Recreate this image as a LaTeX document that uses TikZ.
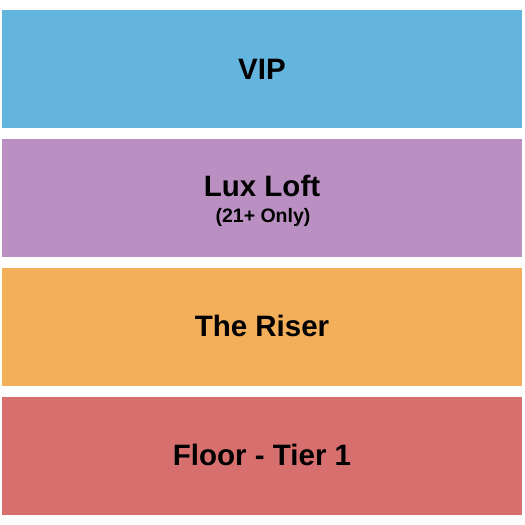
\documentclass[tikz,border=0pt]{standalone}
\usepackage{fontspec}
\setmainfont{Liberation Sans}
\definecolor{cvip}{HTML}{63B5DD}
\definecolor{clux}{HTML}{BA90C2}
\definecolor{criser}{HTML}{F3AE5A}
\definecolor{cfloor}{HTML}{D76F6F}
\begin{document}
\begin{tikzpicture}[x=1pt,y=-1pt,
  sect/.style={draw=none,inner sep=0pt,minimum width=520pt,minimum height=118pt,anchor=north west},
  big/.style={font=\fontsize{29.5}{31}\selectfont\bfseries,inner sep=0pt},
  small/.style={font=\fontsize{19.5}{21}\selectfont\bfseries,inner sep=0pt}]
\useasboundingbox (0,0) rectangle (525,525);
\node[sect,fill=cvip] (vip) at (2,10) {};
\node[sect,fill=clux] (lux) at (2,139) {};
\node[sect,fill=criser] (riser) at (2,268) {};
\node[sect,fill=cfloor] (floor) at (2,397) {};
\node[big] (tvip) at (262,69) {VIP};
\node[big] (tlux) at (262,186) {Lux Loft};
\node[small] (tlux2) at (263,217.5) {(21+ Only)};
\node[big] (triser) at (262,326) {The Riser};
\node[big] (tfloor) at (262,455) {Floor - Tier 1};
\end{tikzpicture}
\end{document}
